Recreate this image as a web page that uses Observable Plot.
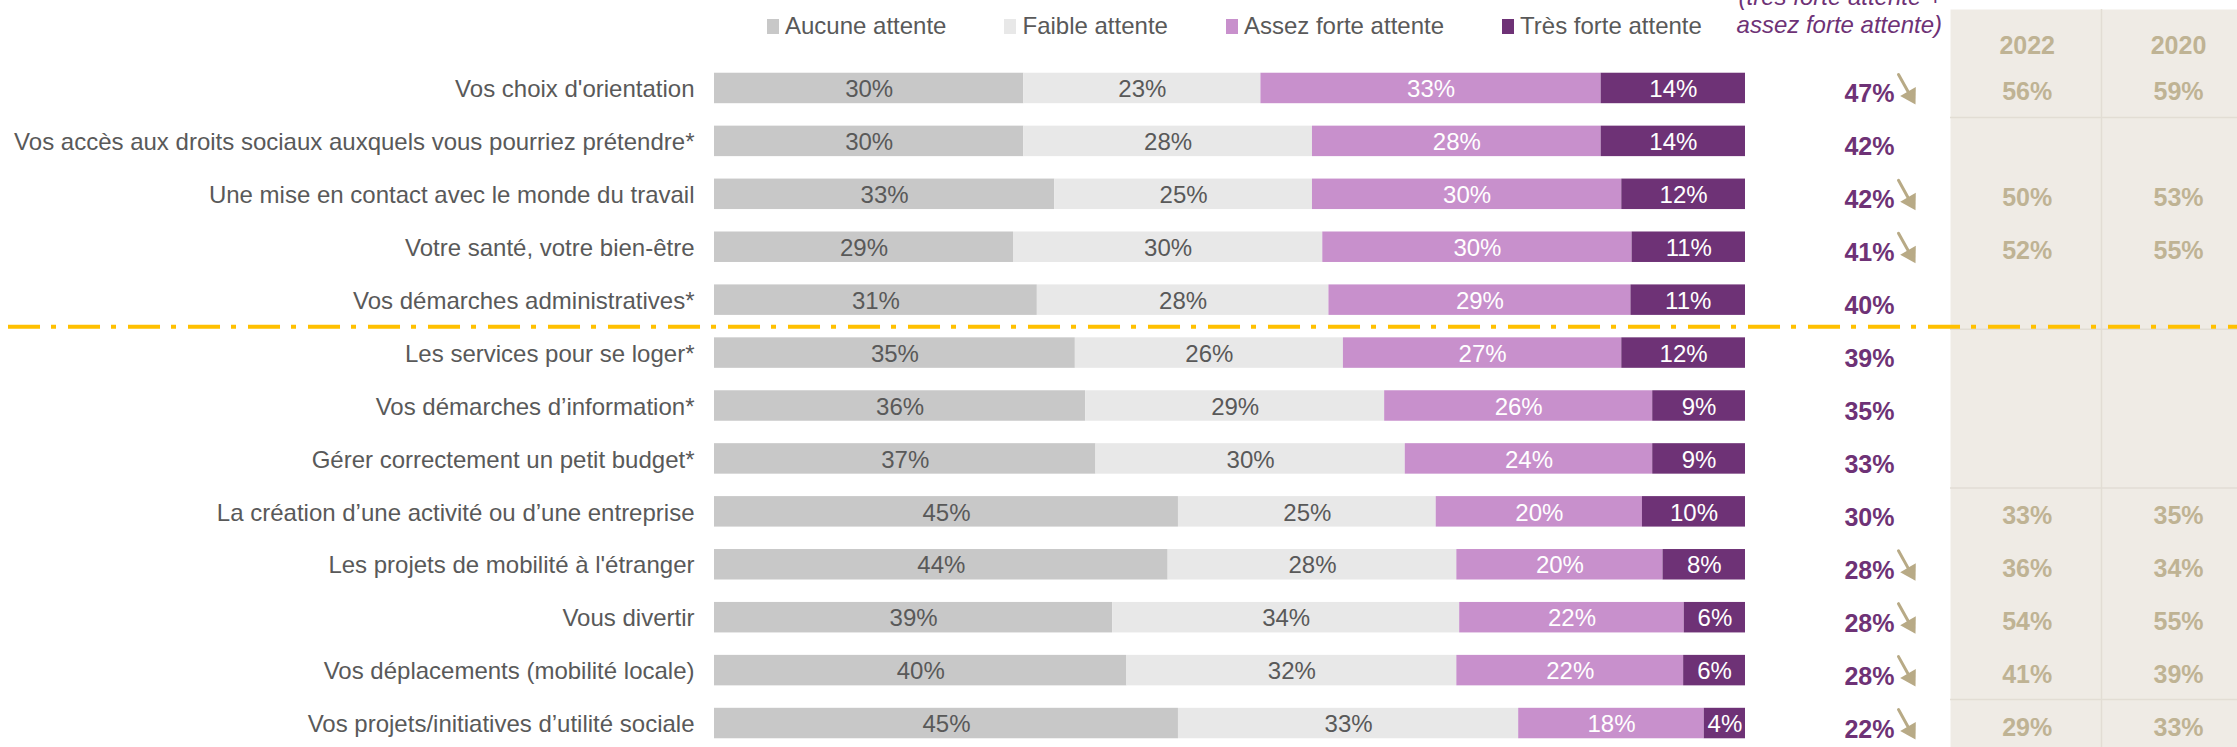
<!DOCTYPE html>
<html><head><meta charset="utf-8">
<script src="https://cdn.jsdelivr.net/npm/d3@7"></script>
<script src="https://cdn.jsdelivr.net/npm/@observablehq/plot@0.6"></script>
<style>
html,body{margin:0;padding:0;background:#fff;}
#wrap{position:relative;width:2237px;height:747px;overflow:hidden;font-family:"Liberation Sans",Arial,sans-serif;}
#chart{position:absolute;left:0;top:0;}
#legend{position:absolute;left:767px;top:12px;display:flex;gap:58px;font-size:24px;line-height:28px;color:#595959;white-space:nowrap;}
.item{display:flex;align-items:center;}
.sw{width:12px;height:15px;margin-right:6px;}
#totHead{position:absolute;right:295px;top:-17px;text-align:right;font-style:italic;font-size:24px;line-height:28px;color:#6e3276;white-space:nowrap;}
</style></head>
<body>
<div id="wrap"><div id="chart"></div><div id="legend"></div><div id="totHead">(très forte attente +<br>assez forte attente)</div></div>
<script>
const categories = [
  "Vos choix d'orientation",
  "Vos accès aux droits sociaux auxquels vous pourriez prétendre*",
  "Une mise en contact avec le monde du travail",
  "Votre santé, votre bien-être",
  "Vos démarches administratives*",
  "Les services pour se loger*",
  "Vos démarches d\u2019information*",
  "Gérer correctement un petit budget*",
  "La création d\u2019une activité ou d\u2019une entreprise",
  "Les projets de mobilité à l'étranger",
  "Vous divertir",
  "Vos déplacements (mobilité locale)",
  "Vos projets/initiatives d\u2019utilité sociale"
];
const levels = ["Aucune attente", "Faible attente", "Assez forte attente", "Très forte attente"];
const levelColors = ["#c8c8c8", "#e8e8e8", "#c890cc", "#6e3276"];
const aucune = [30, 30, 33, 29, 31, 35, 36, 37, 45, 44, 39, 40, 45];
const faible = [23, 28, 25, 30, 28, 26, 29, 30, 25, 28, 34, 32, 33];
const assez  = [33, 28, 30, 30, 29, 27, 26, 24, 20, 20, 22, 22, 18];
const tres   = [14, 14, 12, 11, 11, 12,  9,  9, 10,  8,  6,  6,  4];
const totals = [47, 42, 42, 41, 40, 39, 35, 33, 30, 28, 28, 28, 22];
const declines = [true, false, true, true, false, false, false, false, false, true, true, true, true];
const years = ["2022", "2020"];
const v2022 = [56, null, 50, 52, null, null, null, null, 33, 36, 54, 41, 29];
const v2020 = [59, null, 53, 55, null, null, null, null, 35, 34, 55, 39, 33];
const groupEnds = [
  "Vos choix d'orientation",
  "Vos démarches administratives*",
  "Gérer correctement un petit budget*",
  "Vos déplacements (mobilité locale)"
];
const thresholdAfter = ["Vos démarches administratives*"];

const series = [aucune, faible, assez, tres];
const rows = categories.flatMap((c, i) => series.map((arr, j) => ({cat: c, level: levels[j], value: arr[i]})));
const catRows = categories.map((c, i) => ({cat: c, total: totals[i], decline: declines[i], v2022: v2022[i], v2020: v2020[i]}));
const darkLevels = new Set([levels[2], levels[3]]);

const FONT = "'Liberation Sans', Arial, sans-serif";
const GRAY = "#595959", PURPLE = "#6e3276", TAN = "#bfb394", ARROW = "#b8aa86", LINE = "#e2ddd4";

const chart = Plot.plot({
  width: 2237, height: 747,
  marginLeft: 0, marginRight: 0, marginTop: 0, marginBottom: 0,
  style: {fontFamily: FONT, background: "transparent", overflow: "visible"},
  x: {domain: [0, 1], range: [714, 1745], axis: null},
  y: {domain: categories, range: [61.5, 749.5], paddingInner: 0.424, paddingOuter: 0.212, round: false, axis: null},
  color: {domain: levels, range: levelColors},
  marks: [
    Plot.frame({fill: "#efebe5", stroke: "none", insetLeft: 1950, insetTop: 9}),
    Plot.ruleX([0], {x: () => 1, dx: 356, insetTop: 9, stroke: LINE, strokeWidth: 1.5}),
    Plot.ruleY(groupEnds, {y: d => d, dy: 29, insetLeft: 1950, stroke: LINE, strokeWidth: 1.5}),
    Plot.barX(rows, Plot.stackX({x: "value", y: "cat", fill: "level", offset: "normalize"})),
    Plot.text(rows, Plot.stackX({x: "value", y: "cat", offset: "normalize",
      text: d => darkLevels.has(d.level) ? null : d.value + "%", fill: GRAY, fontSize: 24, dy: 1})),
    Plot.text(rows, Plot.stackX({x: "value", y: "cat", offset: "normalize",
      text: d => darkLevels.has(d.level) ? d.value + "%" : null, fill: "white", fontSize: 24, dy: 1})),
    Plot.text(catRows, {x: () => 0, y: "cat", text: "cat", dx: -20, dy: 1, textAnchor: "end", fill: GRAY, fontSize: 24}),
    Plot.ruleY(thresholdAfter, {y: d => d, dy: 26.5, insetLeft: 8, stroke: "#ffc000", strokeWidth: 4, strokeDasharray: "32 11 5 12"}),
    Plot.text(catRows, {x: () => 1, y: "cat", text: d => d.total + "%", dx: 149, dy: 6, textAnchor: "end", fill: PURPLE, fontWeight: "bold", fontSize: 25}),
    Plot.vector(catRows.filter(d => d.decline), {x: () => 1, y: "cat", dx: 153, dy: -14, anchor: "start", length: 21, rotate: 151, r: 0.01, stroke: ARROW, strokeWidth: 3}),
    Plot.vector(catRows.filter(d => d.decline), {x: () => 1, y: "cat", dx: 162.5, dy: 3, anchor: "start", shape: "spike", length: 15, r: 9, rotate: 150, fill: ARROW, stroke: "none"}),
    Plot.text(catRows.filter(d => d.v2022 != null), {x: () => 1, y: "cat", text: d => d.v2022 + "%", dx: 281.7, dy: 4, fill: TAN, fontWeight: "bold", fontSize: 25}),
    Plot.text(catRows.filter(d => d.v2020 != null), {x: () => 1, y: "cat", text: d => d.v2020 + "%", dx: 433, dy: 4, fill: TAN, fontWeight: "bold", fontSize: 25}),
    Plot.text([years[0]], {x: () => 1, frameAnchor: "top", text: d => d, dx: 281.7, dy: 36, fill: TAN, fontWeight: "bold", fontSize: 25}),
    Plot.text([years[1]], {x: () => 1, frameAnchor: "top", text: d => d, dx: 433, dy: 36, fill: TAN, fontWeight: "bold", fontSize: 25})
  ]
});
document.getElementById("chart").appendChild(chart);

const legend = document.getElementById("legend");
levels.forEach((l, i) => {
  const item = document.createElement("div");
  item.className = "item";
  const sw = document.createElement("span");
  sw.className = "sw";
  sw.style.background = levelColors[i];
  const t = document.createElement("span");
  t.textContent = l;
  item.appendChild(sw); item.appendChild(t);
  legend.appendChild(item);
});
</script>
</body></html>
